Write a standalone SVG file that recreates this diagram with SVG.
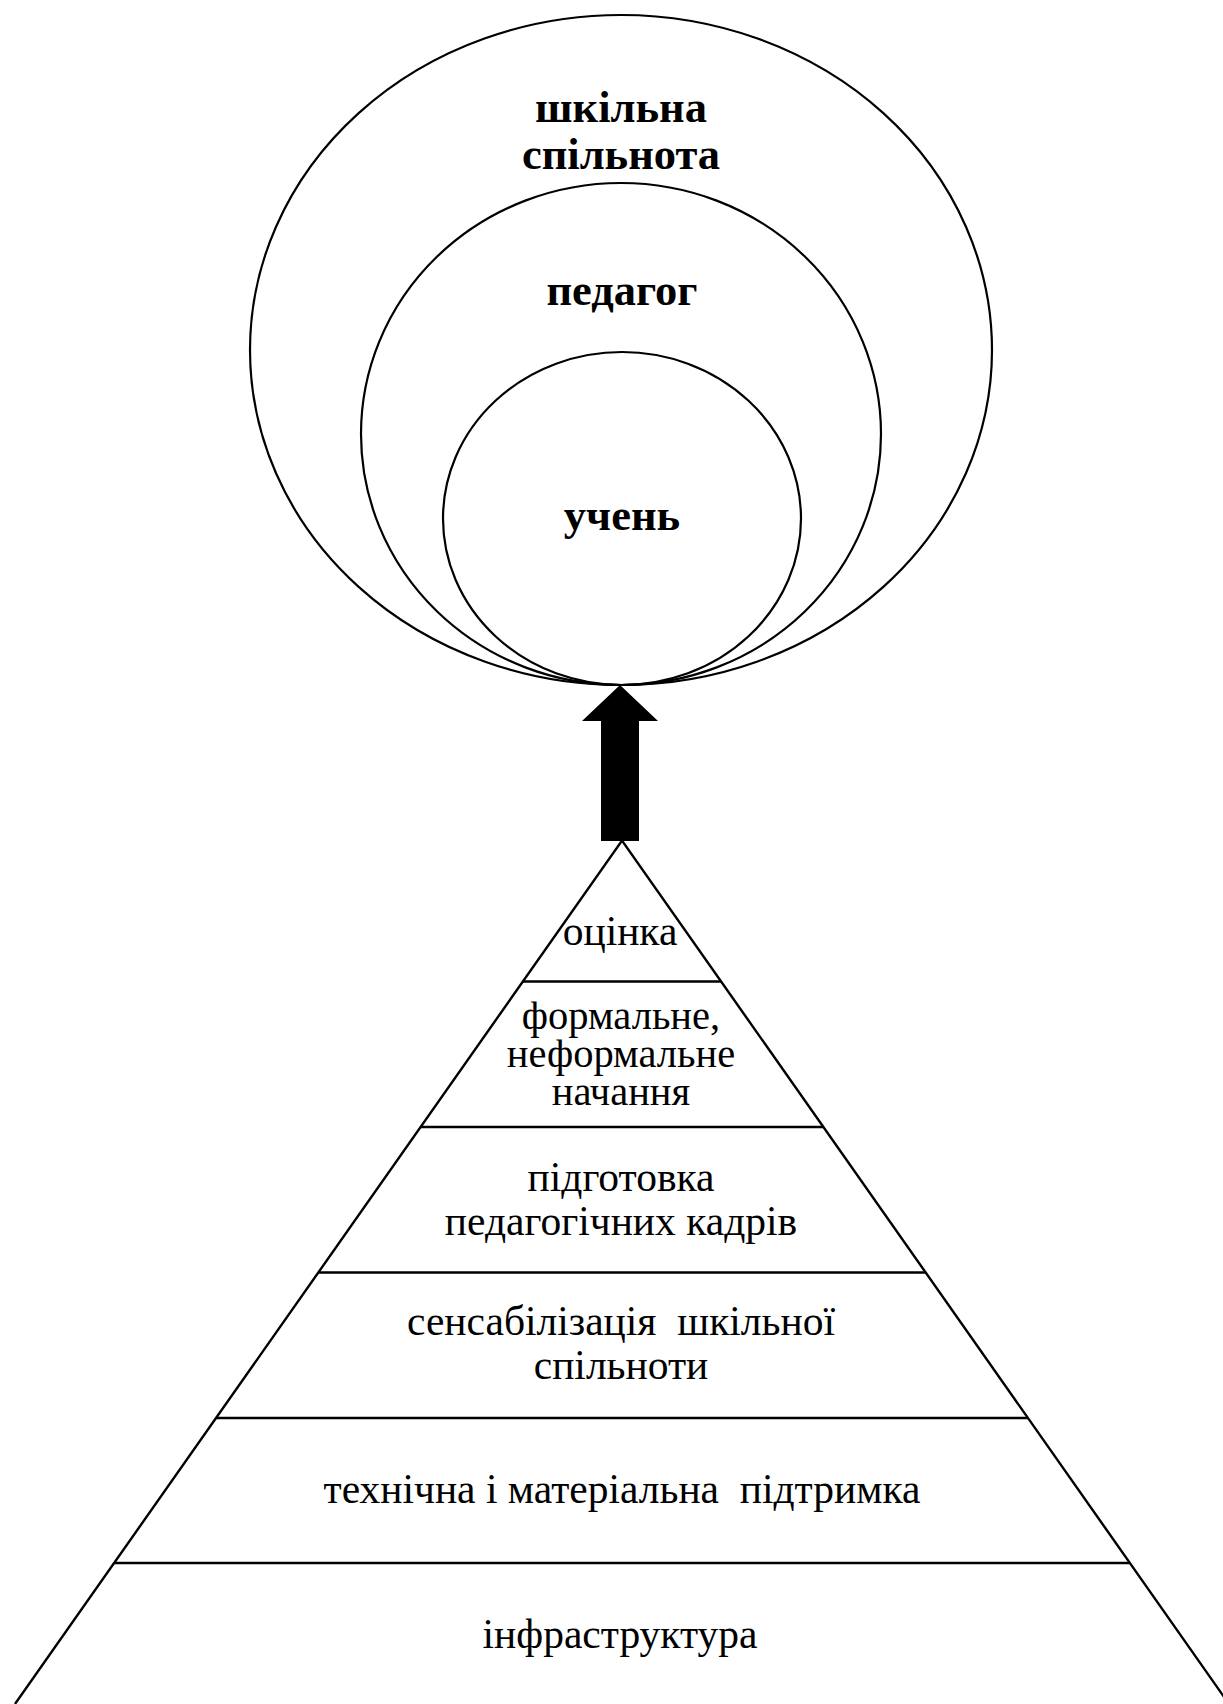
<svg xmlns="http://www.w3.org/2000/svg" width="1223" height="1704" viewBox="0 0 1223 1704">
  <style>
    .ring { fill: none; stroke: #000; stroke-width: 2.2; }
    .edge { fill: none; stroke: #000; stroke-width: 2.4; }
    .bold { font-family: "Liberation Serif", "Times New Roman", serif; font-weight: bold; font-size: 44.5px; fill: #000; text-anchor: middle; }
    .lbl { font-family: "Liberation Serif", "Times New Roman", serif; font-size: 41.5px; fill: #000; text-anchor: middle; }
    .tight { font-size: 40.5px; }
  </style>
  <rect width="1223" height="1704" fill="#fff"/>

  <!-- nested circles: community > teacher > pupil -->
  <g id="node-community">
    <ellipse class="ring" cx="621" cy="350" rx="371" ry="335"/>
    <text class="bold" x="621" y="122">шкільна</text>
    <text class="bold" x="621" y="169">спільнота</text>
  </g>
  <g id="node-teacher">
    <ellipse class="ring" cx="621" cy="434" rx="260" ry="251"/>
    <text class="bold" x="622" y="305">педагог</text>
  </g>
  <g id="node-pupil">
    <ellipse class="ring" cx="622" cy="518.5" rx="179" ry="166.5"/>
    <text class="bold" x="622" y="530">учень</text>
  </g>

  <!-- pyramid outline -->
  <g id="node-pyramid">
    <polyline class="edge" points="15,1704 622,840.5 1229,1704"/>
  </g>

  <!-- pyramid levels, top to bottom -->
  <g id="node-assessment">
    <text class="lbl" x="620" y="945">оцінка</text>
  </g>
  <g id="node-learning">
    <line class="edge" x1="522.9" y1="981.5" x2="721.1" y2="981.5"/>
    <text class="lbl tight" x="621" y="1029">формальне,</text>
    <text class="lbl tight" x="621" y="1067">неформальне</text>
    <text class="lbl tight" x="621" y="1105">начання</text>
  </g>
  <g id="node-training">
    <line class="edge" x1="420.6" y1="1127" x2="823.4" y2="1127"/>
    <text class="lbl" x="621" y="1191">підготовка</text>
    <text class="lbl" x="621" y="1235">педагогічних кадрів</text>
  </g>
  <g id="node-sensitization">
    <line class="edge" x1="318.3" y1="1272.5" x2="925.7" y2="1272.5"/>
    <text class="lbl" x="621" y="1335" xml:space="preserve">сенсабілізація  шкільної</text>
    <text class="lbl" x="621" y="1379">спільноти</text>
  </g>
  <g id="node-support">
    <line class="edge" x1="216" y1="1418" x2="1028" y2="1418"/>
    <text class="lbl" x="622" y="1503" xml:space="preserve">технічна і матеріальна  підтримка</text>
  </g>
  <g id="node-infrastructure">
    <line class="edge" x1="114.1" y1="1563" x2="1129.9" y2="1563"/>
    <text class="lbl" x="620" y="1648">інфраструктура</text>
  </g>

  <!-- block arrow from pyramid apex up to the circles -->
  <g id="connectors">
    <polygon points="620,685 582,721 601,721 601,841 639,841 639,721 658,721" fill="#000"/>
  </g>
</svg>
